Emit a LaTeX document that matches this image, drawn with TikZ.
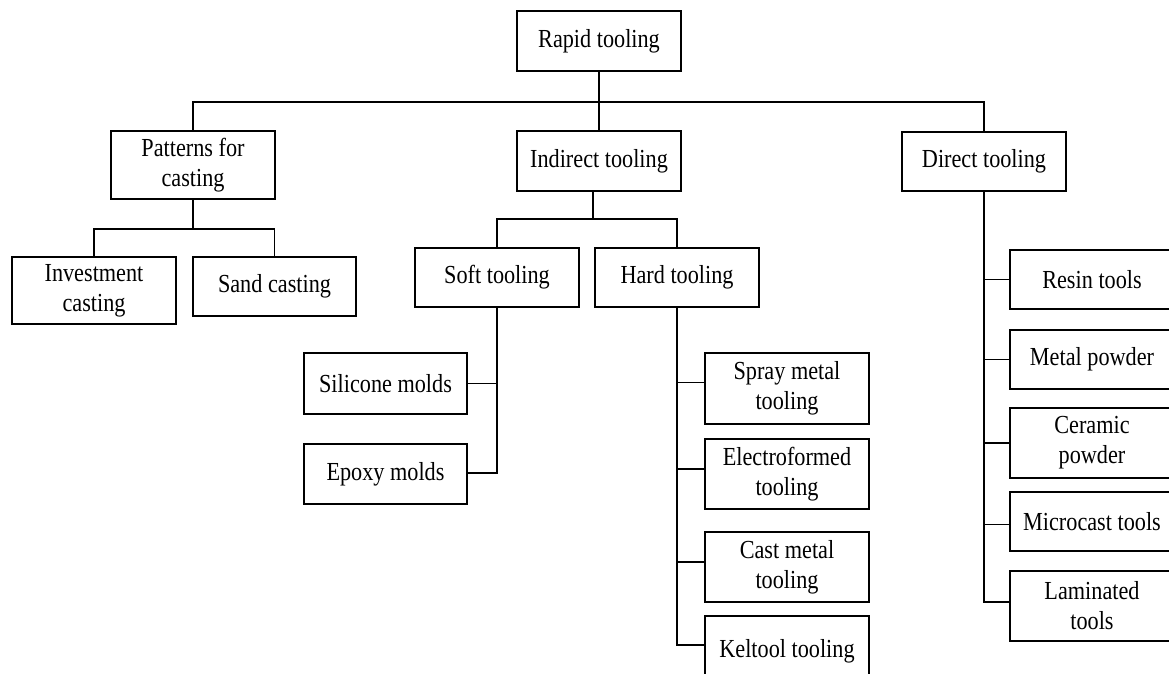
\documentclass[tikz,border=0pt]{standalone}
\usepackage{fontspec}
\setmainfont{Liberation Serif}[FakeStretch=0.855]
\usetikzlibrary{calc}
\begin{document}
\begin{tikzpicture}[x=1pt,y=-1pt,
  box/.style={draw,line width=1.6pt,inner sep=0pt,align=center,minimum width=164pt,
    font=\fontsize{26}{30}\selectfont},
  conn/.style={draw,line width=1.6pt}]
\useasboundingbox (0,0) rectangle (1169,674);
% nodes
\node[box,minimum height=60pt] (rapid) at (599,41) {Rapid tooling};
\node[box,minimum height=68pt] (pat) at (193,165) {Patterns for\\casting};
\node[box,minimum height=60pt] (ind) at (599,161) {Indirect tooling};
\node[box,minimum height=59pt] (dir) at (984,161.5) {Direct tooling};
\node[box,minimum height=67pt] (inv) at (94,290.5) {Investment\\casting};
\node[box,minimum height=59pt,minimum width=163pt] (sand) at (274.5,286.5) {Sand casting};
\node[box,minimum height=59pt] (soft) at (497,277.5) {Soft tooling};
\node[box,minimum height=59pt] (hard) at (677,277.5) {Hard tooling};
\node[box,minimum height=61pt,minimum width=163pt] (sil) at (385.5,383.5) {Silicone molds};
\node[box,minimum height=60pt,minimum width=163pt] (epo) at (385.5,474) {Epoxy molds};
\node[box,minimum height=71pt] (spray) at (787,388.5) {Spray metal\\tooling};
\node[box,minimum height=70pt] (elec) at (787,474) {Electroformed\\tooling};
\node[box,minimum height=70pt] (cast) at (787,567) {Cast metal\\tooling};
\node[box,minimum height=70pt] (kel) at (787,651) {Keltool tooling};
\node[box,minimum height=59pt] (resin) at (1092,279.5) {Resin tools};
\node[box,minimum height=59pt] (metal) at (1092,359.5) {Metal powder};
\node[box,minimum height=70pt] (cer) at (1092,443) {Ceramic\\powder};
\node[box,minimum height=59pt] (micro) at (1092,521.5) {Microcast tools};
\node[box,minimum height=70pt] (lam) at (1092,606) {Laminated\\tools};
% bus coordinates
\coordinate (bus) at (599,102);
\coordinate (pb) at (193,229);
\coordinate (ib) at (593,219);
% top level
\draw[conn] (rapid.south) -- (ind.north);
\draw[conn] (pat.north) |- (bus) -| (dir.north);
% patterns
\draw[conn] (pat.south) -- (pb);
\draw[conn] (inv.north) |- (pb) -| (sand.north);
% indirect
\draw[conn] (ib |- ind.south) -- (ib);
\draw[conn] (soft.north) |- (ib) -| (hard.north);
% soft tooling
\draw[conn] (soft.south) |- ($(epo.east)+(0,-1)$);
\draw[conn] (sil.east) -- (sil.east -| soft.south);
% hard tooling
\coordinate (kelc) at ($(kel.west)+(0,-6)$);
\draw[conn] (hard.south) |- (kelc);
\coordinate (sprayc) at ($(spray.west)+(0,-6)$);
\coordinate (elecc) at ($(elec.west)+(0,-5)$);
\coordinate (castc) at ($(cast.west)+(0,-5)$);
\draw[conn] (sprayc) -- (sprayc -| hard.south);
\draw[conn] (elecc) -- (elecc -| hard.south);
\draw[conn] (castc) -- (castc -| hard.south);
% direct tooling
\coordinate (lamc) at ($(lam.west)+(0,-4)$);
\draw[conn] (dir.south) |- (lamc);
\coordinate (microc) at ($(micro.west)+(0,3)$);
\draw[conn] (resin.west) -- (resin.west -| dir.south);
\draw[conn] (metal.west) -- (metal.west -| dir.south);
\draw[conn] (cer.west) -- (cer.west -| dir.south);
\draw[conn] (microc) -- (microc -| dir.south);
\end{tikzpicture}
\end{document}
